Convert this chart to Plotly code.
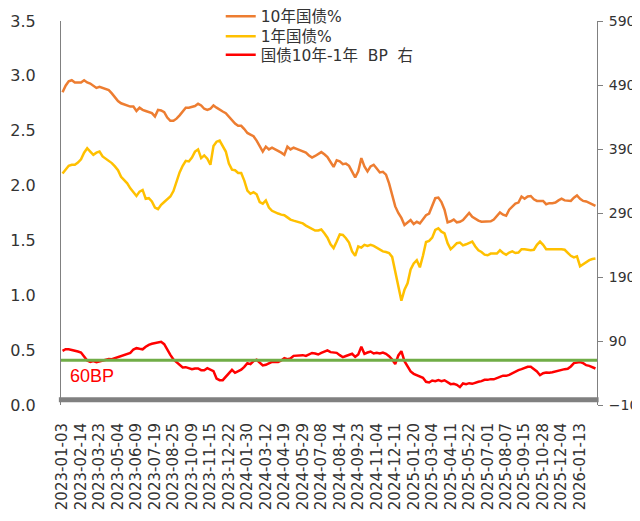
import pandas as pd
import plotly.graph_objects as go

tick_dates = ['2023-01-03','2023-02-14','2023-03-23','2023-05-04','2023-06-09','2023-07-19',
              '2023-08-25','2023-10-09','2023-11-15','2023-12-22','2024-01-30','2024-03-12',
              '2024-04-19','2024-05-29','2024-07-08','2024-08-14','2024-09-23','2024-11-04',
              '2024-12-11','2025-01-20','2025-03-04','2025-04-11','2025-05-22','2025-07-01',
              '2025-08-07','2025-09-15','2025-10-28','2025-12-04','2026-01-13']
tail_dates = ['2026-01-19','2026-01-23','2026-01-29','2026-02-04','2026-02-10']

# sampled observation dates: 6 per tick interval
dates = []
for a, b in zip(tick_dates[:-1], tick_dates[1:]):
    days = pd.bdate_range(a, b)[:-1]
    for k in range(6):
        dates.append(days[round(k * len(days) / 6)].strftime('%Y-%m-%d'))
dates.append(tick_dates[-1])
dates += tail_dates

y10 = [2.85,2.91,2.95,2.96,2.94,2.94, 2.94,2.96,2.94,2.93,2.91,2.89, 2.90,2.89,2.885,2.87,2.84,2.80,
       2.77,2.75,2.74,2.73,2.72,2.72, 2.68,2.71,2.69,2.68,2.67,2.66, 2.63,2.69,2.685,2.67,2.62,2.59,
       2.59,2.61,2.64,2.675,2.71,2.71, 2.72,2.725,2.745,2.73,2.70,2.69, 2.70,2.73,2.71,2.69,2.675,2.66,
       2.625,2.595,2.565,2.545,2.545,2.515, 2.48,2.465,2.45,2.41,2.355,2.31, 2.355,2.33,2.345,2.33,2.32,2.30,
       2.28,2.355,2.33,2.345,2.335,2.325, 2.31,2.30,2.275,2.255,2.27,2.29, 2.305,2.285,2.26,2.215,2.17,2.23,
       2.22,2.195,2.20,2.18,2.12,2.075, 2.13,2.25,2.175,2.13,2.175,2.19, 2.155,2.12,2.125,2.10,2.02,1.92,
       1.81,1.75,1.705,1.64,1.665,1.685, 1.65,1.67,1.655,1.69,1.73,1.745, 1.81,1.885,1.89,1.85,1.78,1.665,
       1.675,1.69,1.665,1.67,1.685,1.72, 1.75,1.715,1.695,1.68,1.67,1.67, 1.67,1.675,1.69,1.72,1.755,1.735,
       1.725,1.78,1.81,1.835,1.845,1.90, 1.88,1.90,1.905,1.875,1.86,1.86, 1.86,1.83,1.84,1.84,1.845,1.865,
       1.88,1.865,1.865,1.86,1.89,1.91, 1.88,1.86,1.855,1.84,1.83,1.815]

y1 = [2.11,2.15,2.18,2.19,2.19,2.21, 2.24,2.30,2.34,2.31,2.28,2.30, 2.31,2.265,2.245,2.225,2.205,2.175,
      2.14,2.08,2.05,2.02,1.975,1.935, 1.905,1.945,1.96,1.88,1.885,1.855, 1.80,1.785,1.825,1.85,1.875,1.90,
      1.95,2.04,2.12,2.18,2.225,2.22, 2.255,2.31,2.33,2.25,2.275,2.245, 2.19,2.36,2.40,2.41,2.36,2.31,
      2.20,2.145,2.14,2.115,2.115,2.045, 1.955,1.925,1.94,1.92,1.85,1.835, 1.865,1.80,1.77,1.755,1.745,1.735,
      1.73,1.71,1.69,1.68,1.67,1.665, 1.655,1.635,1.62,1.605,1.59,1.59, 1.60,1.565,1.525,1.465,1.43,1.49,
      1.555,1.55,1.52,1.48,1.40,1.36, 1.445,1.435,1.46,1.45,1.46,1.45, 1.435,1.42,1.40,1.395,1.385,1.35,
      1.225,1.09,0.95,1.05,1.11,1.235, 1.29,1.32,1.255,1.36,1.485,1.495, 1.525,1.595,1.61,1.58,1.565,1.475,
      1.42,1.445,1.475,1.48,1.455,1.465, 1.48,1.49,1.445,1.41,1.395,1.37, 1.365,1.38,1.38,1.38,1.41,1.385,
      1.37,1.39,1.40,1.385,1.39,1.42, 1.42,1.415,1.41,1.415,1.46,1.49, 1.46,1.42,1.42,1.42,1.425,1.425,
      1.42,1.415,1.39,1.36,1.345,1.355, 1.265,1.285,1.305,1.32,1.33,1.335]

spread_bp = [74.6,77.2,77,76.2,74.9,73.6, 72.0,64.7,59.5,57.2,58.5,57, 58.2,59.8,60.8,61.9,61.6,63.2,
             64.7,66.6,67.9,69.4,71.5,76.7, 78.8,77.8,77.0,80.9,84.0,85.6, 86.6,86.6,88.7,85.1,75.7,68.4,
             61.1,56.4,51.7,48.6,49.1,47.6, 45.8,47.0,47.0,44.4,44.4,47.6, 45.5,42.9,31.4,28.8,28.8,34.0,
             39.2,45.0,40.3,42.9,45.2,49.6, 55.4,53.8,58.5,60.6,56.4,51.7, 52.8,55.4,57.5,57.0,57.0,59.5,
             63.2,61.6,62.6,66.8,67.4,67.4, 67.9,66.8,69.4,71.3,70.5,68.9, 71.3,73.6,75.4,72.6,72.0,71.5,
             67.9,64.7,66.6,67.9,70.0,65.3, 68.9,80.9,70.0,72.0,73.6,70.5, 71.5,70.5,72.0,70.0,66.3,61.1,
             53.8,67.4,74.1,58.5,49.6,42.4, 38.7,36.6,35.6,32.5,26.2,25.2, 28.3,27.3,28.8,27.3,28.6,25.7,
             22.6,23.1,21.5,17.9,23.6,22.6, 24.1,23.1,24.1,26.2,27.3,29.3, 29.3,30.4,30.1,32.5,34.0,35.8,
             35.6,37.1,39.7,42.4,44.4,46.0, 47.6,49.6,49.6,46.0,42.4,36.6, 39.7,40.8,40.3,41.1,42.4,43.9,
             45.0,46.0,46.5,50.2,55.4,55.9, 57.0,55.4,52.2,51.2,48.6,47.0]

ref_bp = 60
names = ['10年国债%', '1年国债%', '国债10年-1年\u00a0\u00a0BP\u00a0\u00a0右']
colors = ['#ED7D31', '#FFC000', '#FF0000']

FONT = 'DejaVu Sans, Noto Sans CJK SC, sans-serif'

fig = go.Figure()
fig.add_trace(go.Scatter(x=dates, y=y10, name=names[0], mode='lines', legend='legend',
                         line=dict(color=colors[0], width=2.5)))
fig.add_trace(go.Scatter(x=dates, y=y1, name=names[1], mode='lines', legend='legend2',
                         line=dict(color=colors[1], width=2.5)))
fig.add_trace(go.Scatter(x=dates, y=spread_bp, name=names[2], mode='lines', yaxis='y2',
                         legend='legend3', line=dict(color=colors[2], width=2.5)))

fig.add_shape(type='line', xref='paper', x0=0, x1=1, yref='y2', y0=ref_bp, y1=ref_bp,
              line=dict(color='#70AD47', width=3))
fig.add_shape(type='rect', xref='paper', x0=-0.004, x1=1.003, yref='y', y0=0.025, y1=0.07,
              line=dict(width=0), fillcolor='#808080')
fig.add_annotation(text=f'{ref_bp}BP', xref='paper', x=0.0575, xanchor='center', yref='y2', y=35,
                   yanchor='middle', showarrow=False,
                   font=dict(color='#FF0000', size=18, family='Liberation Sans, sans-serif'))

leg = dict(x=0.298, xanchor='left', yanchor='top', bgcolor='rgba(0,0,0,0)',
           font=dict(size=15.5, color='#333333'), itemwidth=30)

# page body adds an 8px offset; figure sized so the page does not overflow the 640x521 window
fig.update_layout(
    width=632, height=505,
    margin=dict(l=53, r=43, t=13, b=108, autoexpand=False),
    paper_bgcolor='white', plot_bgcolor='white',
    font=dict(family=FONT, size=15, color='#333333'),
    showlegend=True,
    legend=dict(leg, y=1.0555),
    legend2=dict(leg, y=1.0034),
    legend3=dict(leg, y=0.955),
    xaxis=dict(type='category', range=[-0.5, len(dates) - 0.5], tickmode='array',
               tickvals=tick_dates, ticktext=tick_dates, tickangle=-90,
               showgrid=False, showline=False, zeroline=False, ticks='',
               tickfont=dict(size=15, color='#333333'), ticklabelstandoff=14),
    yaxis=dict(range=[0, 3.5], dtick=0.5, tick0=0, tickformat='.1f', showgrid=False,
               zeroline=False, showline=True, linecolor='#808080', linewidth=1, ticks='',
               tickfont=dict(size=16, color='#333333'), ticklabelstandoff=21),
    yaxis2=dict(range=[-10, 590], dtick=100, tick0=-10, overlaying='y', side='right',
                showgrid=False, zeroline=False, showline=True, linecolor='#808080', linewidth=1,
                ticks='outside', ticklen=5, tickcolor='#808080',
                tickfont=dict(size=14, color='#333333'), ticklabelstandoff=3),
)

fig.write_html('out.html')
